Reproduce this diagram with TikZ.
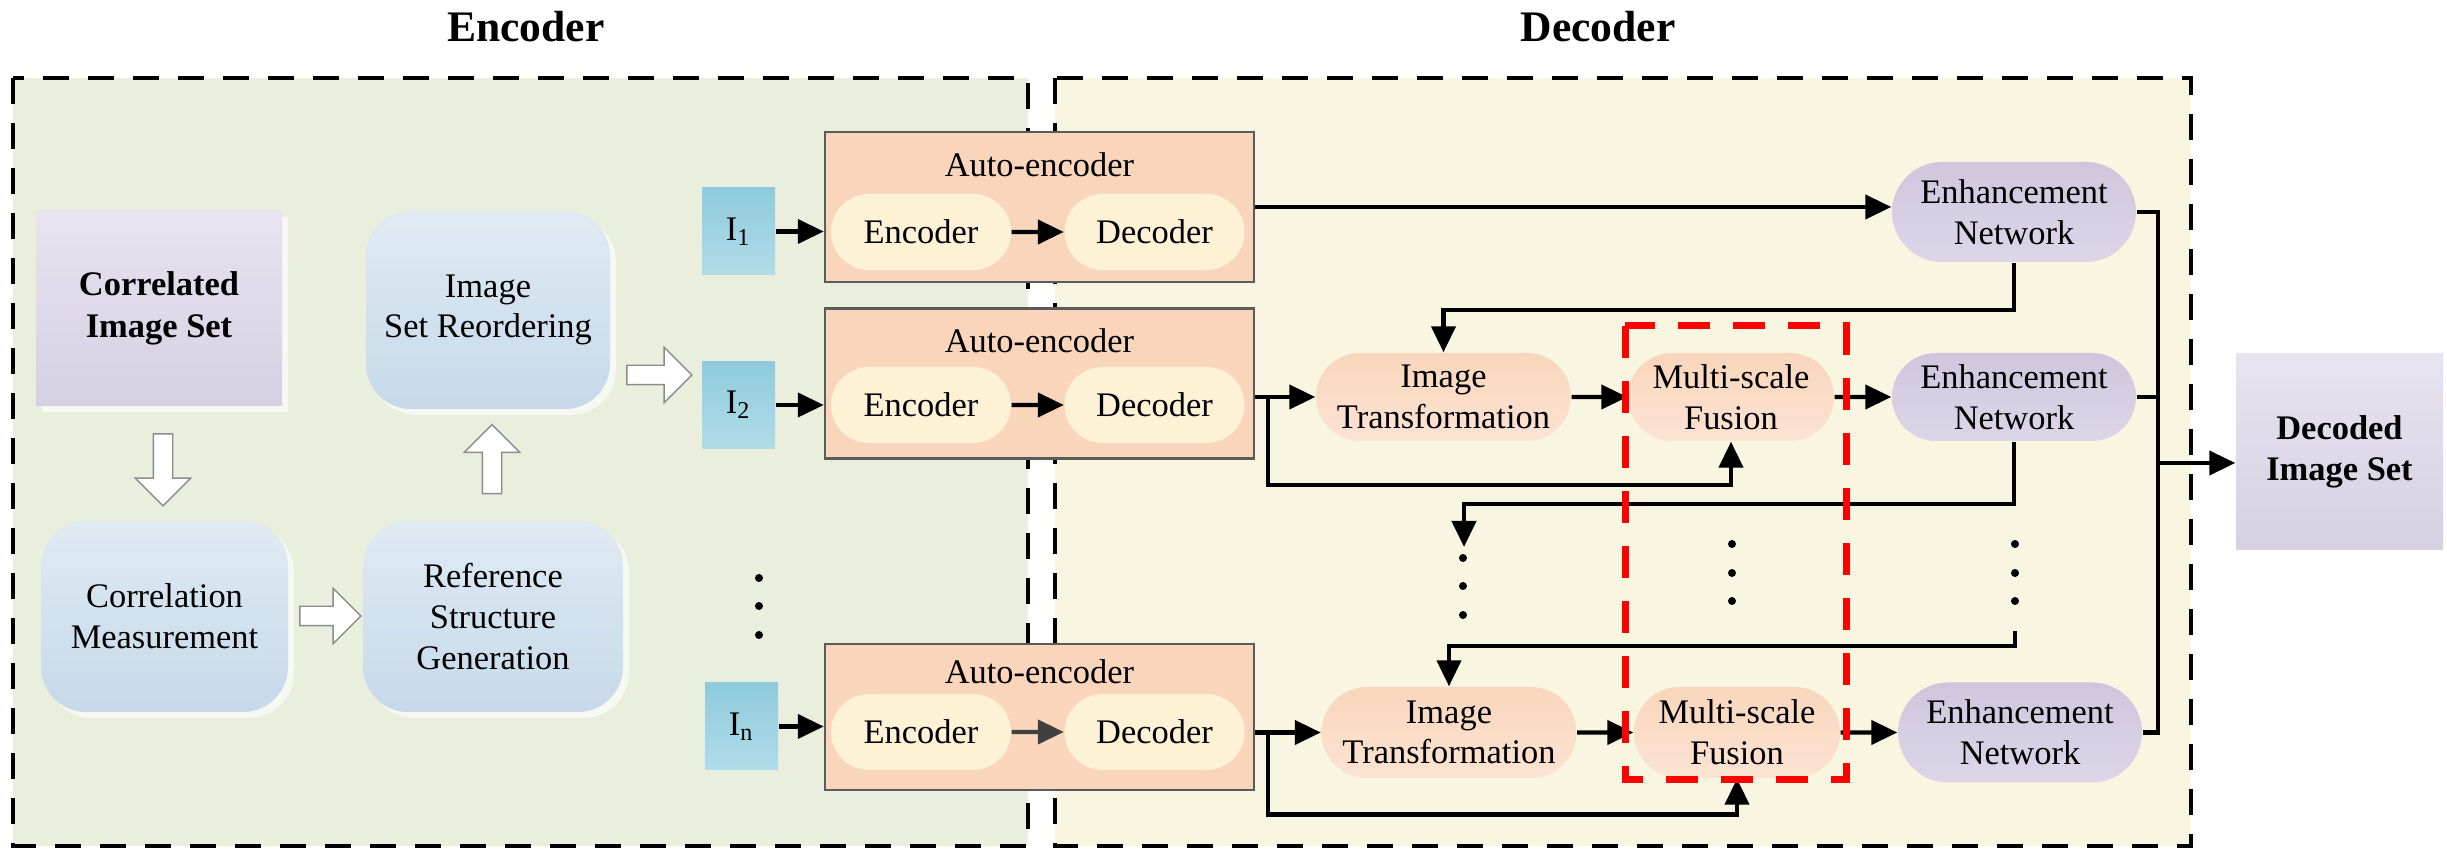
\documentclass[tikz,border=0pt]{standalone}
\usepackage{fontspec}
\setmainfont{Liberation Serif}
\usetikzlibrary{arrows.meta, shapes.arrows, shapes.misc, positioning, shadows}

\definecolor{encBg}{HTML}{E9EFDC}
\definecolor{decBg}{HTML}{F8F5E1}
\definecolor{setTop}{HTML}{E7E3EF}
\definecolor{setBot}{HTML}{D7CFE3}
\definecolor{stageTop}{HTML}{E0EAF3}
\definecolor{stageBot}{HTML}{C6D9EA}
\definecolor{imgTop}{HTML}{8FCBDC}
\definecolor{imgBot}{HTML}{B0DCE9}
\definecolor{aeFill}{HTML}{F9D5BB}
\definecolor{aeLine}{HTML}{5B5B5B}
\definecolor{pillFill}{HTML}{FDF1D6}
\definecolor{procTop}{HTML}{F9D6BC}
\definecolor{procBot}{HTML}{FCE3D3}
\definecolor{enhTop}{HTML}{CFC6DE}
\definecolor{enhBot}{HTML}{DDD6E8}

\begin{document}
\begin{tikzpicture}[x=0.1mm, y=-0.1mm,
    font=\fontsize{9.8}{11.6}\selectfont,
    every node/.style={align=center, inner sep=0pt},
    arr/.style={-{Triangle[length=2.6mm, width=2.4mm]}, line width=0.42mm},
    zone/.style={dash pattern=on 2.6mm off 1.9mm, line width=0.45mm},
    title/.style={font=\fontsize{12.4}{14}\selectfont\bfseries},
    setbox/.style={rectangle, top color=setTop, bottom color=setBot, minimum width=24.6mm, minimum height=19.5mm, font=\fontsize{9.8}{11.8}\selectfont\bfseries, drop shadow={fill=white, opacity=0.6, shadow xshift=0.6mm, shadow yshift=-0.6mm}},
    stagebox/.style={rectangle, rounded corners=4.5mm, top color=stageTop, bottom color=stageBot, minimum height=19.1mm, drop shadow={fill=white, opacity=0.6, shadow xshift=0.6mm, shadow yshift=-0.6mm}},
    hollow/.style={single arrow, draw=black!45, fill=white, inner xsep=0pt, inner ysep=0.9mm, single arrow head extend=1.8mm},
    imgbox/.style={rectangle, top color=imgTop, bottom color=imgBot, minimum width=7.3mm, minimum height=8.7mm},
    aebox/.style={rectangle, draw=aeLine, line width=0.25mm, fill=aeFill, minimum width=42.9mm, minimum height=15mm},
    pill/.style={rounded rectangle, fill=pillFill, minimum width=18mm, minimum height=7.6mm},
    procbox/.style={rounded rectangle, top color=procTop, bottom color=procBot, minimum height=8.8mm},
    enhbox/.style={rounded rectangle, top color=enhTop, bottom color=enhBot, minimum width=24.4mm, minimum height=10mm},
    hl/.style={draw=red, line width=0.7mm, dash pattern=on 3.2mm off 2.3mm}
]
\useasboundingbox (0,0) rectangle (2447,849);

\draw[zone, fill=encBg] (13,78) rectangle (1028,846);
\draw[zone, fill=decBg] (1055,78) rectangle (2191,846);
\node[title] (enctitle) at (526,27) {Encoder};
\node[title] (dectitle) at (1598,27) {Decoder};

\node[setbox] (corr) at (159,308.5) {Correlated\\Image Set};
\node[stagebox, minimum width=24.4mm, minimum height=19.8mm] (reord) at (488,310) {Image\\Set Reordering};
\node[stagebox, minimum width=24.7mm] (corrm) at (164.5,616.5) {Correlation\\Measurement};
\node[stagebox, minimum width=26mm] (refgen) at (493,616.5) {Reference\\Structure\\Generation};

\node[hollow, minimum height=7.2mm, rotate=-90] (h1) at (163,465) {};
\node[hollow, minimum height=6.1mm] (h2) at (325.5,616) {};
\node[hollow, minimum height=6.9mm, rotate=90] (h3) at (492,464) {};
\node[hollow, minimum height=6.5mm] (h4) at (654.5,375) {};

\node[imgbox] (i1) at (738.5,231.5) {I\textsubscript{1}};
\node[imgbox] (i2) at (738.5,405) {I\textsubscript{2}};
\node[imgbox] (in) at (741.5,726.5) {I\textsubscript{n}};
\foreach \y in {578,606,635} \fill (759,\y) circle[radius=0.4mm];

\node[aebox] (ae1) at (1039.5,207) {};
\node[aebox] (ae2) at (1039.5,383.5) {};
\node[aebox, minimum height=14.6mm] (ae3) at (1039.5,717) {};
\node[below=2.1mm of ae1.north] (ae1t) {Auto-encoder};
\node[below=2.1mm of ae2.north] (ae2t) {Auto-encoder};
\node[below=1.6mm of ae3.north] (ae3t) {Auto-encoder};

\node[pill] (enc1) at (921,232) {Encoder};
\node[pill] (dec1) at (1154.5,232) {Decoder};
\node[pill] (enc2) at (921,405) {Encoder};
\node[pill] (dec2) at (1154.5,405) {Decoder};
\node[pill] (enc3) at (921,732) {Encoder};
\node[pill] (dec3) at (1154.5,732) {Decoder};

\draw[arr] (i1.east) -- (i1.east -| ae1.west);
\draw[arr] (i2.east) -- (i2.east -| ae2.west);
\draw[arr] (in.east) -- (in.east -| ae3.west);
\draw[arr] (enc1) -- (dec1);
\draw[arr] (enc2) -- (dec2);
\draw[arr, black!75] (enc3) -- (dec3);

\node[procbox, minimum width=25.5mm] (it1) at (1443.5,397) {Image\\Transformation};
\node[procbox, minimum width=20.6mm] (msf1) at (1731,397) {Multi-scale\\Fusion};
\node[procbox, minimum width=25.5mm, minimum height=9.1mm] (it2) at (1449,732.5) {Image\\Transformation};
\node[procbox, minimum width=20.6mm, minimum height=9.1mm] (msf2) at (1737,732.5) {Multi-scale\\Fusion};
\node[enhbox] (en1) at (2014,212) {Enhancement\\Network};
\node[enhbox, minimum height=8.8mm] (en2) at (2014,397) {Enhancement\\Network};
\node[enhbox] (en3) at (2020,732.5) {Enhancement\\Network};
\node[setbox, minimum width=20.7mm, minimum height=19.6mm] (dec) at (2339.5,452) {Decoded\\Image Set};

\draw[arr] (ae1.east) -- (ae1.east -| en1.west);
\draw[arr] (ae2.east |- it1) -- (it1.west);
\draw[arr] (1268,397) -- ++(0,88) -| (msf1.south);
\draw[arr] (it1) -- (msf1);
\draw[arr] (msf1) -- (en2);
\draw[arr] (en1.south) -- ++(0,47) -| (it1.north);

\coordinate (gap1) at (1464,547);
\draw[arr] (en2.south) -- ++(0,62) -| (gap1);
\foreach \y in {558,586,615} \fill (1463,\y) circle[radius=0.4mm];
\foreach \y in {544,573,601} {
  \fill (1732,\y) circle[radius=0.4mm];
  \fill (2015,\y) circle[radius=0.4mm];
}
\coordinate (gap2) at (2015,631);
\draw[arr] (gap2) -- ++(0,15) -| (it2.north);

\draw[arr] (ae3.east |- it2) -- (it2.west);
\draw[arr] (1268,732.5) -- ++(0,82) -| (msf2.south);
\draw[arr] (it2) -- (msf2);
\draw[arr] (msf2) -- (en3);

\coordinate (bus) at (2158,463);
\draw[line width=0.42mm] (en1.east) -| (bus);
\draw[line width=0.42mm] (en3.east) -| (bus);
\draw[line width=0.42mm] (en2.east) -- (en2.east -| bus);
\draw[arr] (bus) -- (bus -| dec.west);

\draw[hl] (1625,326) rectangle (1846,780);
\end{tikzpicture}
\end{document}
